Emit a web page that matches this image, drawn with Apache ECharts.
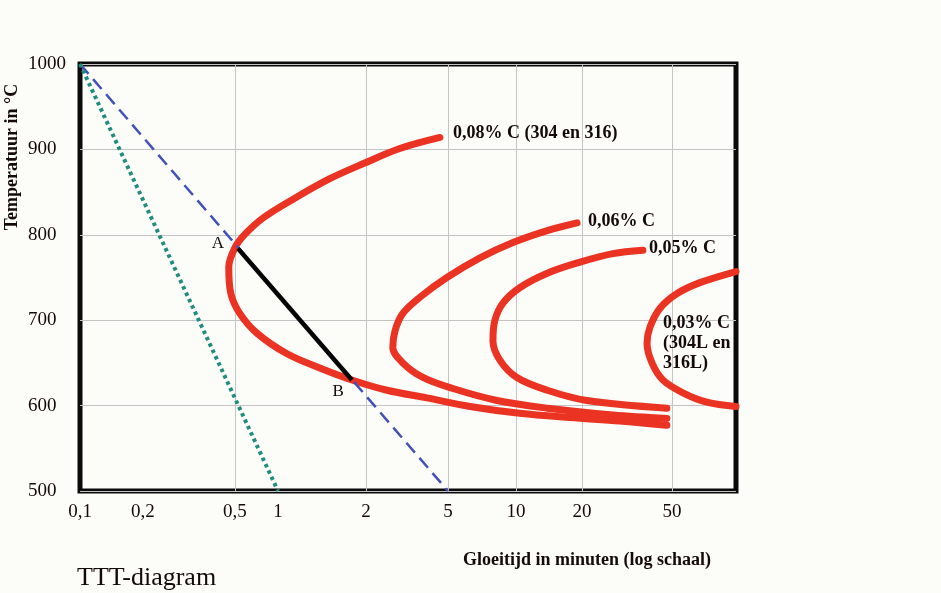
<!DOCTYPE html>
<html><head><meta charset="utf-8">
<script src="https://cdn.jsdelivr.net/npm/echarts@6/dist/echarts.min.js"></script>
<style>html,body{margin:0;padding:0;background:#fcfcf8}#c{width:941px;height:593px}</style>
</head><body><div id="c"></div>
<script>
// ---- data (x: minutes, y: °C) ----
const xTickMinutes = [0.1, 0.2, 0.5, 1, 2, 5, 10, 20, 50];
const xTickLabels = ['0,1', '0,2', '0,5', '1', '2', '5', '10', '20', '50'];
const xGridMinutes = [0.5, 2, 5, 10, 20, 50];
const xMaxMinutes = 96;
const yMin = 500, yMax = 1000, yStep = 100;

const curve008 = [[4.57,914],[2.92,901],[1.98,884],[1.51,866],[1.13,842],[0.79,820],[0.59,801],[0.50,785],[0.47,762],[0.48,731],[0.54,708],[0.71,685],[1.07,661],[1.39,644],[1.79,630],[2.53,618],[3.95,609],[6.26,599],[10.4,591],[17.6,586],[29.4,582],[47.5,577]];
const curve006 = [[19.0,814],[13.9,805],[9.70,791],[6.93,773],[4.94,750],[3.66,727],[3.02,708],[2.77,688],[2.70,668],[3.02,650],[3.78,633],[5.26,620],[8.24,606],[13.9,597],[27.4,589],[47.5,585]];
const curve005 = [[37.2,782],[27.4,778],[19.6,768],[13.9,755],[10.4,738],[8.76,720],[8.07,700],[7.91,676],[8.50,653],[10.1,633],[13.9,618],[21.0,606],[47.5,597]];
const curve003 = [[96,757],[66.5,744],[52.5,731],[44.3,714],[40.0,692],[38.8,673],[40.8,650],[45.6,630],[55.9,615],[71.4,604],[96,599]];
const coolFast = [[0.1,1000],[1,500]];
const coolSlow = [[0.1,1000],[5,500]];
const segmentAB = [[0.525,784],[1.79,630]];

const label008 = '0,08% C (304 en 316)';
const label006 = '0,06% C';
const label005 = '0,05% C';
const label003 = '0,03% C\n(304L en\n316L)';
const label003Index = 5;

// ---- axis layout: the hand-drawn "log" axis, anchor positions along the axis ----
const AXIS_POS = [0, 63, 155, 198, 286, 368, 436, 502, 592];
function pos(t) {
  const T = xTickMinutes, P = AXIS_POS, n = T.length;
  let i = 0;
  if (t >= T[n - 1]) i = n - 2;
  else { while (i < n - 2 && t > T[i + 1]) i++; }
  const f = Math.log(t / T[i]) / Math.log(T[i + 1] / T[i]);
  return P[i] + f * (P[i + 1] - P[i]);
}
const toXY = arr => arr.map(([t, v]) => [pos(t), v]);

const FONT = "'Liberation Serif','Times New Roman',serif";
const RED = '#ea3323';
const TXT = '#140a0a';

function redCurve(arr, labelText, labelIdx, labelOpt) {
  const d = toXY(arr).map((p, i) => {
    if (i !== labelIdx) return p;
    return { value: p, label: Object.assign({ show: true, formatter: labelText, position: 'right',
      fontFamily: FONT, fontWeight: 'bold', fontSize: 18, color: TXT, lineHeight: 20, align: 'left' }, labelOpt) };
  });
  return { type: 'line', data: d, smooth: 0.35, symbol: 'circle', symbolSize: 0.01, showSymbol: true,
    itemStyle: { color: RED }, lineStyle: { color: RED, width: 7, cap: 'round', join: 'round' }, z: 2, silent: true };
}

const chart = echarts.init(document.getElementById('c'), null, { renderer: 'canvas' });
const tickPos = xTickMinutes.map(pos);
chart.setOption({
  animation: false,
  backgroundColor: '#fcfcf8',
  grid: { left: 80, right: 205, top: 64, bottom: 102, show: true, borderWidth: 5, borderColor: '#0a0a0a', backgroundColor: 'transparent' },
  xAxis: {
    type: 'value', min: 0, max: pos(xMaxMinutes),
    axisLine: { show: false },
    axisTick: { show: false, customValues: xGridMinutes.map(pos) },
    splitLine: { show: true, lineStyle: { color: '#c4c4c4', width: 1 } },
    axisLabel: {
      customValues: tickPos, margin: 12, fontSize: 19, fontFamily: FONT, color: TXT,
      formatter: v => { const i = tickPos.findIndex(p => Math.abs(p - v) < 0.01); return i >= 0 ? xTickLabels[i] : ''; }
    }
  },
  yAxis: {
    type: 'value', min: yMin, max: yMax, interval: yStep,
    axisLine: { show: false }, axisTick: { show: false },
    splitLine: { show: true, lineStyle: { color: '#c4c4c4', width: 1 } },
    axisLabel: { align: 'left', margin: 52, fontSize: 19, fontFamily: FONT, color: TXT, formatter: v => String(v) }
  },
  graphic: [
    { type: 'text', x: 12, y: 157, rotation: Math.PI / 2, style: { text: 'Temperatuur in °C', font: "bold 18px " + FONT, fill: TXT, align: 'center', verticalAlign: 'middle' } },
    { type: 'text', x: 463, y: 560, style: { text: 'Gloeitijd in minuten (log schaal)', font: "bold 18px " + FONT, fill: TXT, align: 'left', verticalAlign: 'middle' } },
    { type: 'text', x: 77, y: 578, style: { text: 'TTT-diagram', font: "26px " + FONT, fill: TXT, align: 'left', verticalAlign: 'middle' } }
  ],
  series: [
    redCurve(curve008, label008, 0, { distance: 13, offset: [0, -4] }),
    redCurve(curve006, label006, 0, { distance: 11, offset: [0, -2] }),
    redCurve(curve005, label005, 0, { distance: 6, offset: [0, -2] }),
    redCurve(curve003, label003, label003Index, { distance: 16, offset: [0, 0] }),
    { type: 'line', data: toXY(coolSlow), symbol: 'none', silent: true, z: 3,
      lineStyle: { color: '#4251b8', width: 2.5, type: [13, 7] } },
    { type: 'line', data: toXY(segmentAB).map((p, i) => ({ value: p, label: { show: true, formatter: i === 0 ? 'A' : 'B', position: 'left',
        distance: i === 0 ? 14 : 8, offset: i === 0 ? [0, -5] : [0, 12], fontFamily: FONT, fontSize: 17, color: TXT } })),
      symbol: 'circle', symbolSize: 0.01, itemStyle: { color: '#000' }, silent: true, z: 4,
      lineStyle: { color: '#050505', width: 4.5 } },
    { type: 'line', data: toXY(coolFast), symbol: 'none', silent: true, z: 3,
      lineStyle: { color: '#1f8c7d', width: 4, type: [3.5, 3.5], cap: 'butt' } }
  ]
});
</script>
</body></html>
